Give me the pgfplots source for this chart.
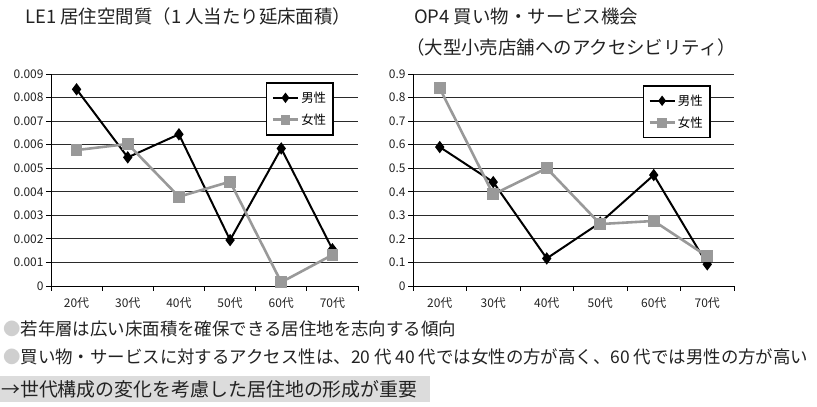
\documentclass[border=0pt]{standalone}
\usepackage{fontspec}
\setmainfont{Noto Sans CJK JP}
\usepackage{pgfplots}
\pgfplotsset{compat=1.18}

\definecolor{femalegray}{HTML}{999999}
\definecolor{gridline}{HTML}{2A2A2A}
\definecolor{bodytext}{HTML}{222222}
\definecolor{bullet}{HTML}{CFCFCF}
\definecolor{notebg}{HTML}{DCDCDC}

% values per age group (0 = 20代 ... 5 = 70代)
\pgfplotstableread{
x  male     female
0  0.00835  0.00577
1  0.00546  0.00603
2  0.00644  0.00379
3  0.00195  0.00443
4  0.00584  0.00016
5  0.00156  0.00132
}\floorarea
\pgfplotstableread{
x  male  female
0  0.59  0.839
1  0.441 0.389
2  0.117 0.500
3  0.269 0.263
4  0.471 0.276
5  0.092 0.126
}\shopping

\pgfplotsset{
  agechart/.style={
    scale only axis, height=212bp,
    axis lines=left, axis line style={-, black, line width=0.8pt},
    xmin=-0.5, xmax=5.5, ymin=0,
    scaled y ticks=false,
    xtick={0,...,5}, xticklabels={20代,30代,40代,50代,60代,70代},
    major x tick style={draw=none},
    minor xtick={-0.5,0.5,...,5.5},
    minor x tick style={black, line width=0.8pt},
    ytick style={black, line width=0.8pt},
    tick align=outside,
    major tick length=5bp, minor tick length=5bp,
    ymajorgrids, grid style={gridline, line width=0.8pt},
    tick label style={font=\fontsize{12}{14}\selectfont, text=bodytext},
    xticklabel style={yshift=-3bp},
    yticklabel style={xshift=1bp},
    /pgf/number format/assume math mode=true,
    legend cell align=left,
    legend style={draw=black, line width=1.6pt, fill=white,
      font=\fontsize{12.5}{14}\selectfont,
      inner xsep=5bp, inner ysep=7bp, row sep=6bp,
      anchor=north west},
    legend image code/.code={%
      \draw[mark repeat=2, mark phase=2, ##1, mark size=3.6bp]
        plot coordinates {(0bp,0bp) (12.5bp,0bp) (25bp,0bp)};},
  },
  maleline/.style={black, line width=2pt, mark=diamond*,
    mark size=4.6bp, mark options={solid, black}},
  femaleline/.style={femalegray, line width=2.6pt, mark=square*,
    mark size=4.6bp, mark options={solid, femalegray}},
}

\begin{document}
\begin{tikzpicture}
\path[use as bounding box] (0,0) rectangle (817bp,407bp);

% left chart: floor area per person
\begin{axis}[agechart, at={(51bp,121bp)}, anchor=south west, width=307bp,
    ymax=0.009, ytick={0,0.001,...,0.0091},
    yticklabels={0,0.001,0.002,0.003,0.004,0.005,0.006,0.007,0.008,0.009},
    legend style={at={(0.70,0.962)}}]
  \addplot[maleline] table[x=x, y=male] {\floorarea};
  \addplot[femaleline] table[x=x, y=female] {\floorarea};
  \legend{男性\hspace{9bp},女性\hspace{9bp}}
\end{axis}

% right chart: access to large retail stores
\begin{axis}[agechart, at={(413bp,121bp)}, anchor=south west, width=321bp,
    ymax=0.9, ytick={0,0.1,...,0.91},
    yticklabels={0,0.1,0.2,0.3,0.4,0.5,0.6,0.7,0.8,0.9},
    legend style={at={(0.715,0.948)}}]
  \addplot[maleline] table[x=x, y=male] {\shopping};
  \addplot[femaleline] table[x=x, y=female] {\shopping};
  \legend{男性\hspace{9bp},女性\hspace{9bp}}
\end{axis}

% titles
\begin{scope}[every node/.style={text=bodytext, inner sep=0pt,
    font=\fontsize{18.5}{20}\selectfont}]
  \node[anchor=west] at (25bp,390bp) {LE1 居住空間質（1 人当たり延床面積）};
  \node[anchor=west] at (414bp,390bp) {OP4 買い物・サービス機会};
  \node[anchor=west] at (406bp,359bp) {（大型小売店舗へのアクセシビリティ）};
\end{scope}

% notes below the charts
\fill[notebg] (0,5bp) rectangle (430bp,31bp);
\begin{scope}[every node/.style={text=bodytext, inner sep=0pt, anchor=west}]
  \node[font=\fontsize{17.5}{19}\selectfont] at (3bp,78bp)
    {\textcolor{bullet}{●}若年層は広い床面積を確保できる居住地を志向する傾向};
  \node[font=\fontsize{17.5}{19}\selectfont] at (3bp,50bp)
    {\textcolor{bullet}{●}買い物・サービスに対するアクセス性は、20 代 40 代では女性の方が高く、60 代では男性の方が高い};
  \node[font=\fontsize{19}{21}\selectfont] at (1bp,18bp)
    {→世代構成の変化を考慮した居住地の形成が重要};
\end{scope}
\end{tikzpicture}
\end{document}
